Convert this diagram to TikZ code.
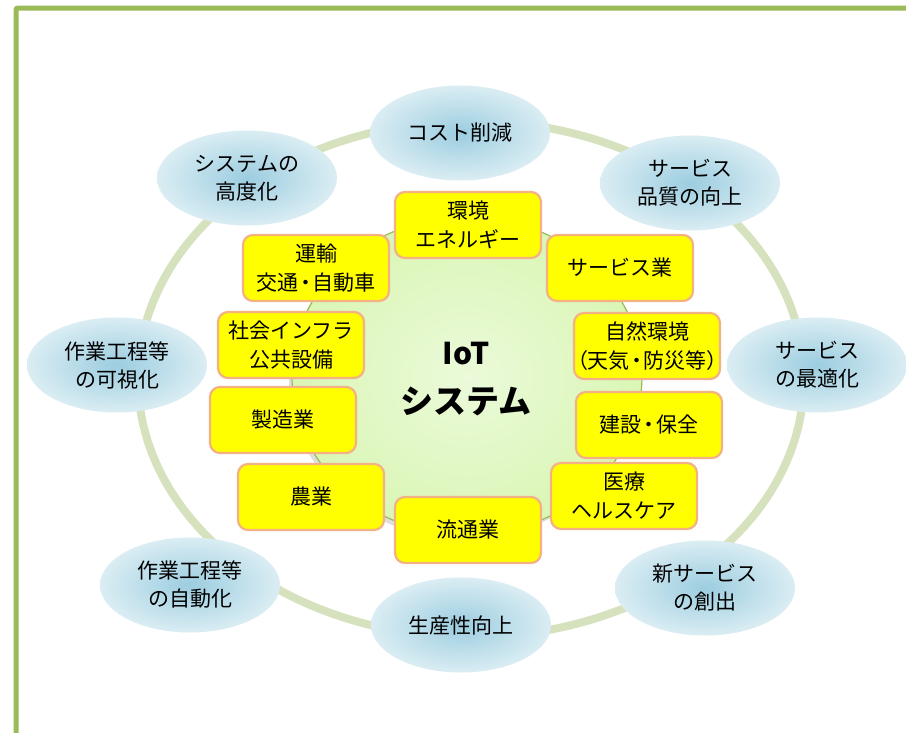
\documentclass[tikz,border=0pt]{standalone}
\usepackage{fontspec}
\setmainfont{Noto Sans CJK JP}
\usepackage{xcolor}
\usetikzlibrary{shapes.geometric,shadows}

\definecolor{framegreen}{HTML}{9BBB59}
\definecolor{ringgreen}{HTML}{D6E2BE}
\definecolor{coreedge}{HTML}{9BBB59}
\definecolor{corein}{HTML}{EBFADA}
\definecolor{coreout}{HTML}{DAF6B5}
\definecolor{bubblein}{HTML}{9CCDE0}
\definecolor{bubbleout}{HTML}{DAEDF3}
\definecolor{boxfill}{HTML}{FFFF00}
\definecolor{boxedge}{HTML}{F4B183}

\newcommand{\halfw}[1]{{\addfontfeatures{RawFeature=+palt}#1}}
\newcommand{\midpt}{\hspace{2pt}\halfw{・}\hspace{2pt}}

\tikzset{
	bubble/.style={ellipse, inner sep=0pt, minimum width=180pt, minimum height=95pt,
		inner color=bubblein, outer color=bubbleout, align=center,
		font=\fontsize{21}{28}\selectfont},
	field/.style={rectangle, rounded corners=10pt, draw=boxedge, line width=2.2pt, fill=boxfill,
		minimum width=146pt, minimum height=66pt, inner sep=0pt, align=center,
		font=\fontsize{21}{29}\selectfont}
}

\begin{document}
\begin{tikzpicture}[x=1pt, y=-1pt]
			\useasboundingbox (0,0) rectangle (906,732);
			\clip (0,0) rectangle (906,732);
			\fill[white] (0,0) rectangle (906,732);
			
			% frame
			\draw[framegreen, line width=5pt, rounded corners=2pt] (16,760) -- (16,8) -- (940,8);
			
			% outer ring
			\draw[ringgreen, line width=8pt] (471,379) ellipse [x radius=333, y radius=258];
			
			% core
			\path[draw=coreedge, line width=1.2pt, inner color=corein, outer color=coreout,
				drop shadow={shadow xshift=-3pt, shadow yshift=-4pt, opacity=0.25}]
				(467,376) ellipse [x radius=175, y radius=159];
			\node[font=\fontsize{30}{30}\selectfont\bfseries] (iot) at (466,354) {IoT};
			\node[font=\fontsize{33}{33}\selectfont\bfseries] (system) at (466,401) {システム};
			
			% effects round the ring
			\foreach \name/\x/\y/\txt in {
				cost/460/133/{コスト削減},
				quality/690/183/{サービス\\品質の向上},
				advance/247/178/{システムの\\高度化},
				visual/117/365/{作業工程等\\の可視化},
				optimum/817/365/{サービス\\の最適化},
				automate/190/585/{作業工程等\\の自動化},
				newservice/705/588/{新サービス\\の創出},
				yield/461/625/{生産性向上}} {
				\node[bubble] (\name) at (\x,\y) {\txt};
			}
			
			% fields
			\foreach \name/\x/\y/\txt in {
				energy/468/225/{環境\\エネルギー},
				transport/316/268/{運輸\\交通\midpt 自動車},
				service/620/268/{サービス業},
				infra/291/345/{社会インフラ\\公共設備},
				nature/647/346/{自然環境\\\halfw{（}天気\midpt 防災等\halfw{）}},
				maker/283/420/{製造業},
				build/649/425/{建設\midpt 保全},
				farm/311/497/{農業},
				medical/624/496/{医療\\ヘルスケア},
				trade/468/530/{流通業}} {
				\node[field] (\name) at (\x,\y) {\txt};
			}
		\end{tikzpicture}
\end{document}
